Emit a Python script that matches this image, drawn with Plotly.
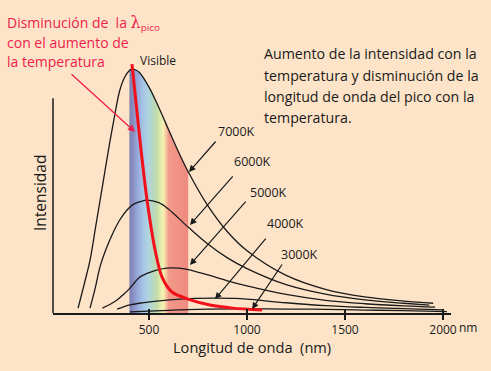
import plotly.graph_objects as go

W, H = 491, 371

# ---------------- data ----------------
wl_7000 = [138, 170, 200, 225, 250, 275, 300, 325, 350, 375, 400, 414, 430, 450, 500, 550,
           600, 650, 700, 800, 900, 1000, 1200, 1400, 1600, 1800, 1950]
int_7000 = [2.0, 12, 22, 34, 46, 58, 70, 81, 91, 96.5, 99.4, 100, 99.7, 98.7, 92.6, 84.2,
            75.1, 66.1, 57.9, 44.0, 33.3, 25.5, 15.4, 9.7, 6.6, 4.9, 4.0]

wl_6000 = [199, 225, 250, 280, 316, 350, 388, 420, 454, 490, 550, 600, 700, 800, 900,
           1000, 1200, 1400, 1600, 1800, 1930]
int_6000 = [2.0, 10, 18.9, 26, 32.8, 38, 42.2, 44.5, 45.6, 46.3, 45.2, 42.5, 35.2, 28.3,
            22.6, 18.2, 11.6, 7.7, 5.4, 4.0, 3.2]

wl_5000 = [262, 300, 337, 370, 403, 430, 454, 490, 530, 590, 650, 700, 800, 900, 1000,
           1200, 1400, 1600, 1800, 1960]
int_5000 = [2.0, 3.5, 5.3, 7.6, 10.2, 12.8, 14.8, 16.2, 17.4, 18.4, 18.4, 17.8, 15.6,
            13.2, 11.1, 7.6, 5.2, 3.8, 2.9, 2.4]

wl_4000 = [337, 370, 403, 450, 505, 580, 658, 740, 827, 940, 1000, 1200, 1400, 1600,
           1800, 2000]
int_4000 = [1.6, 2.5, 3.3, 4.0, 4.6, 5.2, 5.7, 6.0, 6.1, 6.0, 5.7, 4.2, 3.0, 2.3, 1.8, 1.3]

wl_3000 = [403, 500, 600, 700, 800, 966, 1200, 1400, 1600, 1800, 2020]
int_3000 = [0.5, 0.8, 1.1, 1.4, 1.6, 1.7, 1.6, 1.5, 1.2, 1.0, 0.6]

# locus of the peaks (red curve)
peak_wl = [413, 434, 459, 490, 531, 566, 617, 699, 811, 929, 1077]
peak_int = [102, 86, 67, 46.3, 25.8, 14.8, 8.6, 5.7, 3.3, 2.0, 1.2]

temp_labels = ["7000K", "6000K", "5000K", "4000K", "3000K"]
# label centre (nm, intensity), arrow tail and arrow head
label_pos = [(944, 74.2), (1026, 61.9), (1112, 49.2), (1194, 36.5), (1270, 23.8)]
arrow_tail = [(847, 70.9), (934, 56.6), (1000, 46.3), (1102, 31.1), (1184, 20.5)]
arrow_head = [(704, 57.8), (709, 36.1), (709, 19.7), (837, 5.7), (1026, 1.6)]

x_ticks = [500, 1000, 1500, 2000]
x_tick_text = ["500", "1000", "1500", "2000"]
visible_band = (400, 700)
y_axis_top = 88

# ---------------- style ----------------
BG = "#fde4c8"
INK = "#1a1a1a"
RED = "#f2101a"
RED_TXT = "#ee1d4c"
FONT = "Open Sans"

X_RANGE = [10.2, 2040.8]
Y_RANGE = [-23.77, 128.28]

fig = go.Figure()

# visible spectrum band under the 7000K curve
band_x = [w for w in wl_7000 if visible_band[0] <= w <= visible_band[1]]
band_y = [i for w, i in zip(wl_7000, int_7000) if visible_band[0] <= w <= visible_band[1]]
fig.add_trace(go.Scatter(
    x=band_x, y=band_y, mode="lines", line=dict(width=0, shape="spline"),
    fill="tozeroy",
    fillgradient=dict(type="horizontal", colorscale=[
        [0.00, "#7c7eb0"], [0.07, "#8a90c4"], [0.14, "#98aadc"], [0.23, "#a6c4e6"],
        [0.32, "#b0d4e0"], [0.40, "#b8d8c0"], [0.47, "#c4dcaa"], [0.54, "#e6eeb0"],
        [0.58, "#f8f0b0"], [0.62, "#f8c8a0"], [0.67, "#f29a8a"], [1.00, "#ef8a80"]]),
    hoverinfo="skip", showlegend=False))

for wl, it in [(wl_7000, int_7000), (wl_6000, int_6000), (wl_5000, int_5000),
               (wl_4000, int_4000), (wl_3000, int_3000)]:
    fig.add_trace(go.Scatter(x=wl, y=it, mode="lines",
                             line=dict(color=INK, width=1.3, shape="spline", smoothing=1),
                             showlegend=False, hoverinfo="skip"))

fig.add_trace(go.Scatter(x=peak_wl, y=peak_int, mode="lines",
                         line=dict(color=RED, width=3, shape="spline", smoothing=0.8),
                         showlegend=False, hoverinfo="skip"))

# invisible trace to host the inner-tick overlay axis
fig.add_trace(go.Scatter(x=x_ticks, y=[0] * len(x_ticks), xaxis="x2", mode="markers",
                         marker=dict(opacity=0), showlegend=False, hoverinfo="skip"))

ann = []
# temperature labels and arrows
for t, (lx, ly), (tx, ty), (hx, hy) in zip(temp_labels, label_pos, arrow_tail, arrow_head):
    ann.append(dict(x=lx, y=ly, xref="x", yref="y", text=t, showarrow=False,
                    font=dict(size=12.5, color=INK, family=FONT)))
    ann.append(dict(x=hx, y=hy, ax=tx, ay=ty, xref="x", yref="y", axref="x", ayref="y",
                    text="", showarrow=True, arrowhead=2, arrowsize=1.1, arrowwidth=1.2,
                    arrowcolor=INK))

# red pointer to the red curve
ann.append(dict(x=429, y=74.2, ax=97, ay=98.4, xref="x", yref="y", axref="x", ayref="y",
                text="", showarrow=True, arrowhead=2, arrowsize=1.1, arrowwidth=1.3,
                arrowcolor=RED_TXT))

def P(px, py):
    return px / W, 1 - py / H

red_lines = ["Disminución de  la <span style='font-family:DejaVu Serif;font-size:16px'>λ</span><sub>pico</sub>",
             "con el aumento de", "la temperatura"]
for txt, py in zip(red_lines, [23.5, 42.5, 61.5]):
    x, y = P(5, py)
    ann.append(dict(x=x, y=y, xref="paper", yref="paper", xanchor="left", yanchor="middle",
                    text=txt, showarrow=False, font=dict(size=14, color=RED_TXT, family=FONT)))

right_lines = ["Aumento de la intensidad con la", "temperatura y disminución de la",
               "longitud de onda del pico con la", "temperatura."]
for txt, py in zip(right_lines, [54, 75.5, 96.5, 117.5]):
    x, y = P(262, py)
    ann.append(dict(x=x, y=y, xref="paper", yref="paper", xanchor="left", yanchor="middle",
                    text=txt, showarrow=False, font=dict(size=14.2, color=INK, family=FONT)))

x, y = P(138, 61)
ann.append(dict(x=x, y=y, xref="paper", yref="paper", xanchor="left", yanchor="middle",
                text="Visible", showarrow=False, font=dict(size=12, color=INK, family=FONT)))

x, y = P(457, 327)
ann.append(dict(x=x, y=y, xref="paper", yref="paper", xanchor="left", yanchor="middle",
                text="nm", showarrow=False, font=dict(size=12, color=INK, family=FONT)))

x, y = P(252, 347)
ann.append(dict(x=x, y=y, xref="paper", yref="paper", xanchor="center", yanchor="middle",
                text="Longitud de onda  (nm)", showarrow=False,
                font=dict(size=14.6, color=INK, family=FONT)))

x, y = P(40, 193)
ann.append(dict(x=x, y=y, xref="paper", yref="paper", xanchor="center", yanchor="middle",
                text="Intensidad", textangle=-90, showarrow=False,
                font=dict(size=15.5, color=INK, family=FONT)))

x_dom = [53 / W, 451 / W]
x_pos = (H - 313) / H

fig.update_layout(
    template="none",
    width=W, height=H, margin=dict(l=0, r=0, t=0, b=0, pad=0),
    paper_bgcolor=BG, plot_bgcolor=BG,
    font=dict(family=FONT, color=INK),
    xaxis=dict(domain=x_dom, range=X_RANGE, anchor="free", position=x_pos, automargin=False,
               showline=True, linecolor=INK, linewidth=1.5,
               ticks="outside", ticklen=5, tickwidth=1.3, tickcolor=INK,
               tickvals=x_ticks, ticktext=x_tick_text,
               tickfont=dict(size=12, color=INK, family=FONT),
               showgrid=False, zeroline=False),
    xaxis2=dict(overlaying="x", range=X_RANGE, anchor="free", position=x_pos, automargin=False,
                showline=False, ticks="inside", ticklen=4, tickwidth=1.3, tickcolor=INK,
                tickvals=x_ticks, showticklabels=False, showgrid=False, zeroline=False),
    yaxis=dict(domain=[0, 1], range=Y_RANGE, visible=False, automargin=False),
    shapes=[dict(type="line", xref="paper", yref="y", x0=53 / W, x1=53 / W,
                 y0=0, y1=y_axis_top, line=dict(color=INK, width=1.5))],
    annotations=ann,
)

fig.write_html("out.html", config={"displayModeBar": False, "staticPlot": True},
               post_script="document.body.style.margin='0';document.body.style.overflow='hidden';")
